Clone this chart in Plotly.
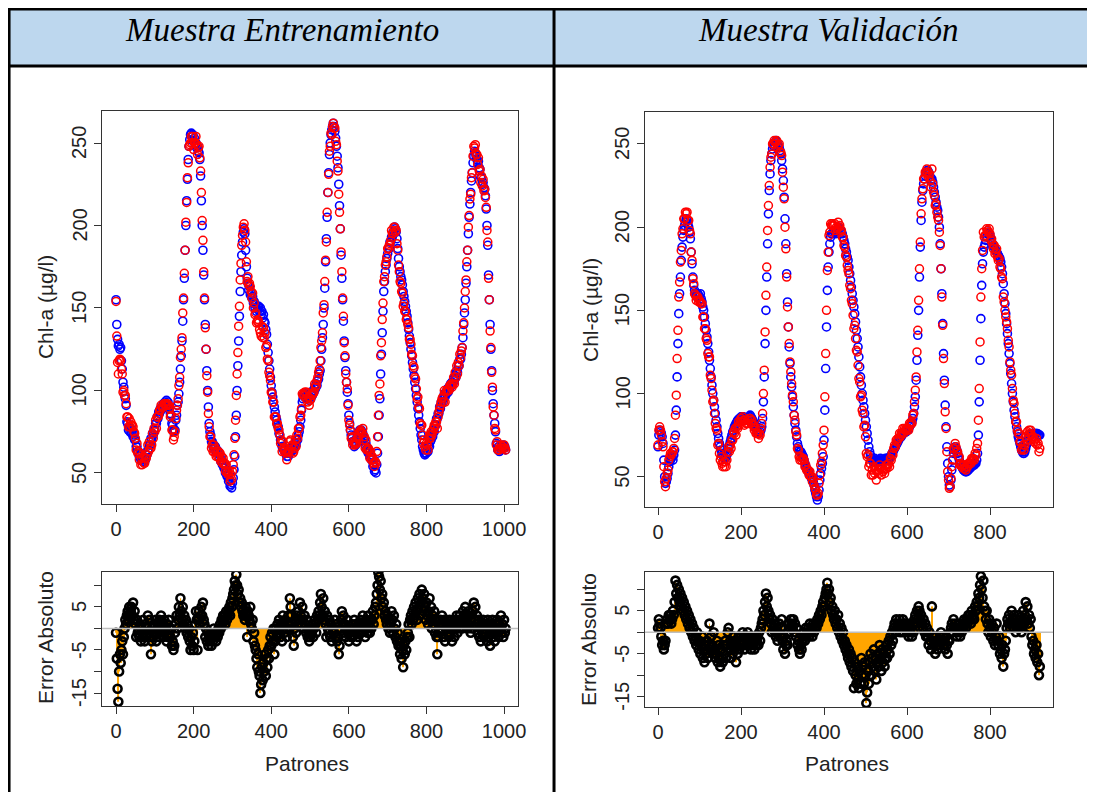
import plotly.graph_objects as go

# The photographed page is slightly down-scaled horizontally (CSS px -> picture px)
# and the page body adds an 8px margin, so layout positions are given in picture
# pixels and converted to paper fractions below.
SCALE_X = 1095 / 1103
OFF = 8
FW = 1095
FH = 784

# ---------------- text ----------------
header_titles = ["Muestra Entrenamiento", "Muestra Validación"]
y_title_top = "Chl-a (µg/l)"
y_title_err = "Error Absoluto"
x_title = "Patrones"

# ---------------- ticks ----------------
top_yticks = [50, 100, 150, 200, 250]
top_yticktext = ["50", "100", "150", "200", "250"]
train_xticks = [0, 200, 400, 600, 800, 1000]
val_xticks = [0, 200, 400, 600, 800]
err_ticks = [-15, -10, -5, 0, 5, 10]
err_ticktext = ["-15", "", "-5", "", "5", ""]

# ---------------- data (one value every 2 patrones) ----------------
patron_step = 2

train_obs = [
    155,140,131,127,128, 125,126,118,113,105, 102,97,95,91,81, 80,76,78,75,77, 74,76,72,73,70,
    70,66,66,63,63, 60,61,58,59,57, 58,57,59,58,61, 61,64,64,67,67, 71,70,74,73,76,
    76,80,80,84,83, 87,86,89,88,90, 89,92,90,93,91, 94,91,93,89,90, 86,85,80,79,75,
    76,76,82,85,91, 93,98,105,113,121, 130,142,155,168,185, 200,215,228,240,248, 252,255,256,254,255,
    251,253,249,250,247, 248,245,244,240,230, 215,200,185,170,155, 140,125,112,100,90, 80,75,73,69,69,
    66,67,65,66,63, 64,62,63,60,61, 57,58,55,56,53, 53,50,51,48,48, 45,46,42,43,41,
    44,47,52,60,72, 85,100,115,130,145, 160,172,182,190,196, 198,195,185,175,168, 165,161,163,158,159,
    156,157,153,154,150, 152,148,151,149,151, 148,150,146,148,144, 146,142,141,137,134, 128,123,118,113,108,
    103,99,96,93,90, 87,84,82,79,78, 74,73,70,69,66, 66,64,64,62,62, 60,62,60,63,62,
    65,63,66,64,67, 65,68,67,70,70, 73,75,78,82,88, 93,95,98,96,98, 96,97,95,96,94,
    96,95,98,97,100, 99,102,101,104,103, 106,107,110,112,118, 125,132,140,150,162, 178,192,205,220,232,
    243,250,255,258,260, 262,260,257,253,248, 242,235,225,212,198, 182,168,155,142,130, 120,112,105,99,92,
    85,80,76,73,71, 69,69,66,68,67, 71,71,74,73,76, 74,76,73,74,70, 71,67,68,64,65,
    62,63,60,61,58, 58,54,55,51,52, 50,55,62,72,85, 95,110,122,135,148, 160,166,172,176,180,
    183,186,186,190,190, 193,193,196,196,199, 198,196,192,186,180, 175,172,169,167,164, 160,157,154,151,148,
    145,141,137,133,129, 125,121,117,113,109, 105,101,97,93,89, 85,81,77,73,70, 66,64,62,61,62,
    62,64,63,67,66, 69,70,73,72,76, 75,79,79,83,83, 86,86,90,89,93, 92,95,95,98,96,
    99,98,101,99,102, 101,104,103,105,104, 107,106,109,108,112, 111,115,115,119,119, 122,126,132,140,147,
    155,165,175,185,195, 205,213,220,227,232, 238,242,245,244,242, 240,238,239,235,234, 229,229,225,226,223,
    222,218,210,200,188, 170,155,140,125,112, 100,92,85,80,75, 68,67,64,66,63, 65,64,66,65,67,
    65,66,64,
]

train_pred = [
    154,133,117,110,118, 119,118,113,110,99, 100,97,97,92,84, 84,78,83,78,81, 79,79,78,75,74,
    71,64,68,62,63, 58,62,55,59,55, 60,56,56,59,59, 61,67,63,69,65, 65,67,74,71,77,
    75,82,77,84,84, 85,88,88,91,90, 90,90,92,92,91, 91,92,91,91,89, 84,85,76,76,70,
    72,75,83,88,91, 95,103,108,120,125, 132,147,156,171,185, 202,214,229,238,248, 249,250,254,250,254,
    246,250,250,254,249, 243,247,248,241,233, 220,203,191,172,156, 138,125,109,99,86, 78,72,72,65,67,
    63,67,63,65,60, 63,60,63,59,62, 57,60,56,59,55, 56,51,55,50,51, 49,51,45,49,46,
    51,55,61,71,82, 97,110,123,139,151, 167,177,188,194,199, 201,197,190,178,166, 169,164,165,163,160,
    156,159,150,153,146, 147,141,142,143,141, 137,135,133,139,132, 138,132,135,126,127, 119,118,111,109,106,
    99,98,93,93,84, 84,84,80,80,77, 76,73,68,70,63, 69,65,63,64,62, 58,63,63,63,69,
    70,66,67,62,63, 65,70,66,73,71, 77,77,84,85,89, 98,97,98,99,99, 95,99,93,96,91,
    94,95,97,98,98, 99,104,102,103,106, 108,111,113,118,126, 130,135,147,152,166, 179,190,208,220,231,
    245,248,256,255,260, 262,259,259,251,249, 239,233,219,208,198, 184,172,156,145,129, 121,110,105,101,91,
    82,79,76,71,72, 67,69,68,67,68, 68,71,72,74,75, 76,75,74,77,70, 72,65,70,64,64,
    65,64,59,63,58, 60,58,56,54,57, 56,63,72,85,97, 104,121,129,143,153, 166,169,176,178,181,
    186,186,188,189,191, 197,195,195,199,199, 196,197,189,185,176, 172,166,165,160,159, 151,153,148,148,143,
    143,140,138,131,131, 128,122,121,115,114, 108,107,101,95,96, 90,89,80,79,79, 73,68,70,66,64,
    68,67,64,71,73, 71,75,73,75,77, 79,78,81,81,77, 84,87,89,91,93, 95,96,93,100,93,
    99,100,100,100,100, 103,103,104,102,104, 108,104,111,108,115, 110,117,115,122,120, 124,126,136,141,150,
    160,167,178,185,199, 206,216,219,229,232, 242,248,247,249,243, 243,237,241,233,234, 226,230,224,228,221,
    222,217,211,197,190, 168,155,136,126,111, 102,90,85,77,76, 67,69,64,64,64, 65,67,65,66,65,
    67,65,64,
]

train_err = [
    -1,-7,-14,-17,-10, -6,-8,-5,-3,-6, -2,0,2,1,3, 4,2,5,3,4, 5,3,6,2,4,
    1,-2,2,-1,0, -2,1,-3,0,-2, 2,-1,-3,1,-2, 0,3,-1,2,-2, -6,-3,0,-2,1,
    -1,2,-3,0,1, -2,2,-1,3,0, 1,-2,2,-1,0, -3,1,-2,2,-1, -2,0,-4,-3,-5,
    -4,-1,1,3,0, 2,5,3,7,4, 2,5,1,3,0, 2,-1,1,-2,0, -3,-5,-2,-4,-1,
    -5,-3,1,4,2, -5,2,4,1,3, 5,3,6,2,1, -2,0,-3,-1,-4, -2,-3,-1,-4,-2,
    -3,0,-2,-1,-3, -1,-2,0,-1,1, 0,2,1,3,2, 3,1,4,2,3, 4,5,3,6,5,
    7,8,9,11,10, 12.5,10,8,9,6, 7,5,6,4,3, 3,2,5,3,-2, 4,3,2,5,1,
    0,2,-3,-1,-4, -5,-7,-9,-6,-10, -11,-15,-13,-9,-12, -8,-10,-6,-11,-7, -9,-5,-7,-4,-2,
    -4,-1,-3,0,-6, -3,0,-2,1,-1, 2,0,-2,1,-3, 3,1,-1,2,0, -2,1,3,0,7,
    5,3,1,-2,-4, 0,2,-1,3,1, 4,2,6,3,1, 5,2,0,3,1, -1,2,-2,0,-3,
    -2,0,-1,1,-2, 0,2,1,-1,3, 2,4,3,6,8, 5,3,7,2,4, 1,-2,3,0,-1,
    2,-2,1,-3,0, 0,-1,2,-2,1, -3,-2,-6,-4,0, 2,4,1,3,-1, 1,-2,0,2,-1,
    -3,-1,0,-2,1, -2,0,2,-1,1, -3,0,-2,1,-1, 2,-1,1,3,0, 1,-2,2,0,-1,
    3,1,-1,2,0, 2,4,1,3,5, 6,8,10,13,12, 9,11,7,8,5, 6,3,4,2,1,
    3,0,2,-1,1, 4,2,-1,3,0, -2,1,-3,-1,-4, -3,-6,-4,-7,-5, -9,-4,-6,-3,-5,
    -2,-1,1,-2,2, 3,1,4,2,5, 3,6,4,2,7, 5,8,3,6,9, 7,4,8,5,2,
    6,3,1,4,7, 2,5,0,3,1, 4,-1,2,-2,-6, -2,1,-1,2,0, 3,1,-2,2,-3,
    0,2,-1,1,-2, 2,-1,1,-3,0, 1,-2,2,0,3, -1,2,0,3,1, 2,0,4,1,3,
    5,2,3,0,4, 1,3,-1,2,0, 4,6,2,5,1, 3,-1,2,-2,0, -3,1,-1,2,-2,
    0,-1,1,-3,2, -2,0,-4,1,-1, 2,-2,0,-3,1, -1,2,0,-2,1, 0,3,-1,1,-2,
    2,-1,0,
]

val_obs = [
    68,75,78,77,76, 74,70,60,50,46, 47,49,52,56,59, 60,61,62,60,63, 66,75,90,110,130,
    148,160,170,180,188, 194,198,201,203,205, 204,202,200,197,193, 185,178,170,165,162, 160,159,158,160,159,
    158,160,157,155,152, 150,146,142,138,134, 130,125,120,115,110, 105,100,96,92,88, 84,80,76,73,70,
    68,66,64,63,62, 61,61,62,63,65, 67,69,71,73,75, 77,78,80,81,82, 83,84,84,85,85,
    86,86,86,86,85, 85,85,84,84,85, 86,87,86,85,84, 83,82,80,79,78, 77,76,76,77,78,
    80,85,95,110,130, 150,170,190,208,222, 232,240,244,247,249, 250,251,252,251,250, 249,248,246,244,240,
    235,228,218,205,190, 172,155,140,128,118, 110,104,98,92,87, 82,78,74,70,68, 66,65,65,64,63,
    62,60,58,56,55, 54,53,52,51,50, 49,48,47,45,42, 40,38,36,38,42, 48,52,55,58,62,
    72,90,115,140,162, 176,185,190,194,196, 196,197,198,197,196, 197,198,199,200,199, 198,197,196,194,192,
    190,187,185,182,180, 176,172,168,164,160, 156,152,148,143,138, 133,128,122,116,110, 105,100,96,92,88,
    84,80,76,72,68, 65,63,61,60,59, 60,61,60,59,60, 59,60,60,61,60, 59,60,59,60,61,
    60,61,61,60,61, 62,63,64,65,66, 67,68,69,70,71, 72,73,74,74,75, 76,76,77,77,77,
    78,78,79,80,81, 82,83,85,88,92, 98,108,120,135,150, 170,188,204,215,222, 226,229,231,233,234,
    234,233,232,230,228, 229,227,224,221,218, 215,212,210,206,200, 190,175,160,142,124, 108,93,80,68,58,
    50,45,44,48,54, 60,64,66,68,67, 66,64,62,60,58, 57,56,55,54,54, 53,53,53,54,54,
    55,55,56,56,57, 57,57,58,58,60, 64,75,95,120,145, 165,178,185,188,190, 192,194,196,197,196,
    195,193,191,190,189, 188,187,186,185,184, 183,182,181,179,176, 172,166,160,154,148, 142,136,130,124,118,
    112,106,100,95,90, 86,83,80,77,74, 72,70,68,66,65, 64,64,65,67,69, 71,73,74,75,75,
    76,76,76,76,76, 76,76,76,75,75, 75,
]

val_pred = [
    69,78,80,78,75, 71,68,56,47,44, 49,52,54,60,62, 64,63,65,65,67, 73,87,99,121,138,
    158,167,179,186,196, 199,205,205,209,208, 209,204,204,198,196, 185,180,169,166,160, 159,156,158,158,155,
    156,155,154,154,146, 146,139,139,133,132, 124,122,122,111,109, 102,95,96,88,82, 79,78,69,70,64,
    60,62,58,56,59, 56,59,56,60,65, 68,65,69,67,72, 72,77,76,79,75, 80,79,83,81,83,
    85,83,86,84,81, 84,82,82,84,82, 85,85,82,84,81, 81,78,79,76,76, 76,73,76,75,79,
    82,88,100,114,137, 159,176,198,213,225, 236,242,244,250,250, 252,251,251,252,248, 249,250,245,245,243,
    233,224,217,200,187, 170,152,140,130,119, 113,106,99,95,87, 84,77,75,67,66, 62,60,62,60,61,
    61,60,56,57,54, 54,54,51,53,50, 50,47,49,45,43, 42,39,39,40,46, 51,57,59,64,69,
    78,98,124,150,174, 185,195,197,202,201, 202,201,201,202,198, 200,199,203,200,201, 197,198,194,194,189,
    188,183,182,177,174, 172,165,163,156,154, 147,139,141,133,126, 125,117,109,107,98, 99,90,88,80,81,
    74,64,62,63,56, 58,58,51,54,51, 56,52,54,48,53, 54,52,57,55,51, 55,53,54,52,55,
    57,55,57,58,56, 61,60,64,63,67, 69,68,72,71,73, 73,76,74,76,76, 79,76,79,78,79,
    78,79,78,82,81, 83,82,87,88,95, 102,110,125,138,156, 175,191,208,217,223, 229,229,233,232,235,
    233,230,232,228,224, 235,226,221,219,213, 214,209,206,204,197, 189,175,158,141,121, 106,89,79,65,53,
    48,43,44,49,56, 60,67,67,70,68, 65,65,62,62,57, 58,56,57,55,57, 55,54,56,56,58,
    58,59,58,61,60, 61,60,64,63,67, 70,84,103,131,158, 175,186,197,194,195, 195,199,198,197,199,
    196,192,193,190,187, 189,184,185,187,182, 180,181,176,175,170, 169,158,155,150,146, 143,139,132,128,119,
    114,111,103,96,94, 88,83,83,78,76, 76,71,71,66,67, 69,66,69,74,72, 77,75,78,76,78,
    75,73,74,71,72, 70,73,69,70,65, 67,
]

val_err = [
    1,3,2,1,-1, -3,-2,-4,-3,-2, 2,3,2,4,3, 4,2,3,5,4, 7,12,9,11,8,
    10,7,9,6,8, 5,7,4,6,3, 5,2,4,1,3, 0,2,-1,1,-2, -1,-3,0,-2,-4,
    -2,-5,-3,-1,-6, -4,-7,-3,-5,-2, -6,-3,2,-4,-1, -3,-5,0,-4,-6, -5,-2,-7,-3,-6,
    -8,-4,-6,-7,-3, -5,-2,-6,-3,0, 1,-4,-2,-6,-3, -5,-1,-4,-2,-7, -3,-5,-1,-4,-2,
    -1,-3,0,-2,-4, -1,-3,-2,0,-3, -1,-2,-4,-1,-3, -2,-4,-1,-3,-2, -1,-3,0,-2,1,
    2,3,5,4,7, 9,6,8,5,3, 4,2,0,3,1, 2,0,-1,1,-2, 0,2,-1,1,3,
    -2,-4,-1,-5,-3, -2,-3,0,2,1, 3,2,1,3,0, 2,-1,1,-3,-2, -4,-5,-3,-4,-2,
    -1,0,-2,1,-1, 0,1,-1,2,0, 1,-1,2,0,1, 2,1,3,2,4, 3,5,4,6,7,
    6,8,9,10,11.5, 9,10,7,8,5, 6,4,3,5,2, 3,1,4,0,2, -1,1,-2,0,-3,
    -2,-4,-3,-5,-6, -4,-7,-5,-8,-6, -9,-13,-7,-10,-12, -8,-11,-13,-9,-12, -6,-10,-8,-12,-7,
    -10,-16.5,-14,-9,-12, -7,-5,-10,-6,-8, -4,-9,-6,-11,-7, -5,-8,-3,-6,-9, -4,-7,-5,-8,-6,
    -3,-6,-4,-2,-5, -1,-3,0,-2,1, 2,0,3,1,2, 1,3,0,2,1, 3,0,2,1,2,
    0,1,-1,2,0, 1,-1,2,0,3, 4,2,5,3,6, 5,3,4,2,1, 3,0,2,-1,1,
    -1,-3,0,-2,-4, 6,-1,-3,-2,-5, -1,-3,-4,-2,-3, -1,0,-2,-1,-3, -2,-4,-1,-3,-5,
    -2,-2,0,1,2, 0,3,1,2,1, -1,1,0,2,-1, 1,0,2,1,3, 2,1,3,2,4,
    3,4,2,5,3, 4,3,6,5,7, 6,9,8,11,13, 10,8,12,6,5, 3,5,2,0,3,
    1,-1,2,0,-2, 1,-3,-1,2,-2, -3,-1,-5,-4,-6, -3,-8,-5,-4,-2, 1,3,2,4,1,
    2,5,3,1,4, 2,0,3,1,2, 4,1,3,0,2, 5,2,4,7,3, 6,2,4,1,3,
    -1,-3,-2,-5,-4, -6,-3,-7,-5,-10, -8,
]


def patrones(values):
    return [i * patron_step for i in range(len(values))]


def px(v):
    """picture x pixel -> paper fraction"""
    return (v / SCALE_X - OFF) / FW


def py(v):
    """picture y pixel -> paper fraction"""
    return 1 - (v - OFF) / FH


# ---------------- colours / styles ----------------
HEADER_FILL = "#BDD7EE"
OBS_COLOR = "#0000FF"
PRED_COLOR = "#FF0000"
BAR_COLOR = "#FFA500"
AXIS_COLOR = "#333333"
TEXT_COLOR = "#222222"
SANS = "Liberation Sans, Arial, sans-serif"
SERIF = "Liberation Serif, Times New Roman, serif"
TICK_SIZE = 20

fig = go.Figure()

# top panels: observed (blue) then predicted (red)
for obs, pred, xa, ya in [(train_obs, train_pred, "x", "y"), (val_obs, val_pred, "x2", "y2")]:
    fig.add_trace(go.Scatter(
        x=patrones(obs), y=obs, mode="markers", xaxis=xa, yaxis=ya,
        marker=dict(symbol="circle-open", size=8, color=OBS_COLOR, line=dict(width=1.6)),
        hoverinfo="skip"))
    fig.add_trace(go.Scatter(
        x=patrones(pred), y=pred, mode="markers", xaxis=xa, yaxis=ya,
        marker=dict(symbol="circle-open", size=8, color=PRED_COLOR, line=dict(width=1.5)),
        hoverinfo="skip"))

# bottom panels: error as orange spikes + black open circles
for err, xa, ya in [(train_err, "x3", "y3"), (val_err, "x4", "y4")]:
    fig.add_trace(go.Bar(
        x=patrones(err), y=err, width=patron_step, xaxis=xa, yaxis=ya,
        marker=dict(color=BAR_COLOR, line=dict(width=0)), hoverinfo="skip"))
    fig.add_trace(go.Scatter(
        x=patrones(err), y=err, mode="markers", xaxis=xa, yaxis=ya,
        marker=dict(symbol="circle-open", size=8, color="#000000", line=dict(width=2.6)),
        hoverinfo="skip"))

axis_common = dict(
    showline=True, mirror=True, linecolor=AXIS_COLOR, linewidth=1.3,
    ticks="outside", ticklen=7, tickwidth=1.1, tickcolor=AXIS_COLOR,
    showgrid=False, zeroline=False,
    tickfont=dict(family=SANS, size=TICK_SIZE, color=TEXT_COLOR),
)
# y tick labels are drawn as rotated annotations (R style, further from the axis)
yaxis_common = dict(axis_common, showticklabels=False)

left_dom = [px(102), px(518)]
right_dom = [px(645), px(1053)]

fig.update_layout(
    width=FW, height=FH,
    margin=dict(l=0, r=0, t=0, b=0),
    paper_bgcolor="white", plot_bgcolor="white",
    showlegend=False, barmode="overlay",
    xaxis=dict(axis_common, domain=left_dom, anchor="y", range=[-36, 1036], tickvals=train_xticks),
    yaxis=dict(yaxis_common, domain=[py(504), py(111)], anchor="x", range=[31.2, 269.4],
               tickvals=top_yticks),
    xaxis2=dict(axis_common, domain=right_dom, anchor="y2", range=[-31.3, 951.8], tickvals=val_xticks),
    yaxis2=dict(yaxis_common, domain=[py(507), py(112)], anchor="x2", range=[31.8, 269.2],
                tickvals=top_yticks),
    xaxis3=dict(axis_common, domain=left_dom, anchor="y3", range=[-36, 1036], tickvals=train_xticks),
    yaxis3=dict(yaxis_common, domain=[py(706), py(572)], anchor="x3", range=[-18.0, 13.1],
                tickvals=err_ticks),
    xaxis4=dict(axis_common, domain=right_dom, anchor="y4", range=[-31.3, 951.8], tickvals=val_xticks),
    yaxis4=dict(yaxis_common, domain=[py(707), py(572)], anchor="x4", range=[-17.4, 14.0],
                tickvals=err_ticks),
)

# ---------------- table frame ----------------
shapes = [
    dict(type="rect", xref="paper", yref="paper", x0=px(9), x1=1.0, y0=py(66), y1=py(9),
         fillcolor=HEADER_FILL, line=dict(width=0), layer="below"),
    dict(type="line", xref="paper", yref="paper", x0=px(7.5), x1=1.0, y0=py(9), y1=py(9),
         line=dict(color="black", width=3)),
    dict(type="line", xref="paper", yref="paper", x0=px(7.5), x1=1.0, y0=py(66), y1=py(66),
         line=dict(color="black", width=3)),
    dict(type="line", xref="paper", yref="paper", x0=px(9), x1=px(9), y0=py(7.5), y1=0,
         line=dict(color="black", width=3)),
    dict(type="line", xref="paper", yref="paper", x0=px(554), x1=px(554), y0=py(7.5), y1=0,
         line=dict(color="black", width=3)),
]
# zero reference lines in the error panels
for xa, ya in [("x3", "y3"), ("x4", "y4")]:
    shapes.append(dict(type="line", xref=f"{xa} domain", yref=ya, x0=0, x1=1, y0=0, y1=0,
                       line=dict(color="#BEBEBE", width=1.6), layer="above"))
fig.update_layout(shapes=shapes)

# ---------------- texts ----------------
ann = []
for title, cx in zip(header_titles, [281.5, 828]):
    ann.append(dict(text=title, x=px(cx), y=py(30), xref="paper", yref="paper",
                    xanchor="center", yanchor="middle", showarrow=False,
                    font=dict(family=SERIF, size=33, color="black", style="italic")))
for cx, cy, txt in [(45, 307, y_title_top), (590, 310, y_title_top),
                    (45, 638, y_title_err), (588, 640, y_title_err)]:
    ann.append(dict(text=txt, x=px(cx), y=py(cy), xref="paper", yref="paper",
                    xanchor="center", yanchor="middle", textangle=-90, showarrow=False,
                    font=dict(family=SANS, size=21, color=TEXT_COLOR)))
for cx in [307, 847]:
    ann.append(dict(text=x_title, x=px(cx), y=py(763), xref="paper", yref="paper",
                    xanchor="center", yanchor="middle", showarrow=False,
                    font=dict(family=SANS, size=21, color=TEXT_COLOR)))
# rotated y tick labels
for ya, cx, vals, texts in [("y", 79, top_yticks, top_yticktext),
                            ("y2", 622, top_yticks, top_yticktext),
                            ("y3", 79, err_ticks, err_ticktext),
                            ("y4", 622, err_ticks, err_ticktext)]:
    for v, t in zip(vals, texts):
        if not t:
            continue
        ann.append(dict(text=t, x=px(cx), y=v, xref="paper", yref=ya,
                        xanchor="center", yanchor="middle", textangle=-90, showarrow=False,
                        font=dict(family=SANS, size=TICK_SIZE, color=TEXT_COLOR)))
fig.update_layout(annotations=ann)

fig.write_html("out.html", config={"displayModeBar": False})
